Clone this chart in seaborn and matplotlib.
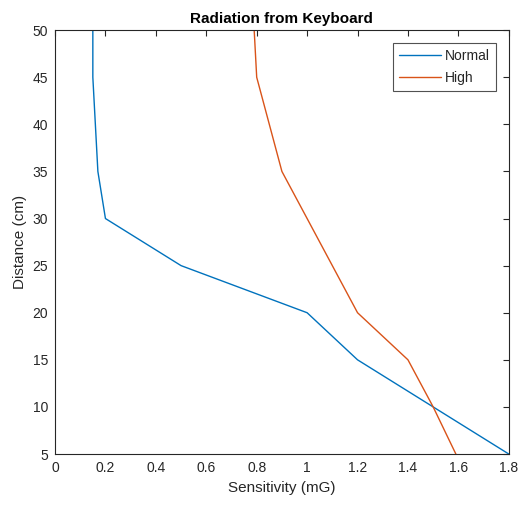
import matplotlib
matplotlib.use("Agg")
import matplotlib.pyplot as plt
import seaborn as sns
import pandas as pd

# values
distance = [50, 45, 40, 35, 30, 25, 20, 15, 10, 5]
normal = [0.15, 0.15, 0.16, 0.17, 0.2, 0.5, 1.0, 1.2, 1.5, 1.8]
high = [0.79, 0.8, 0.85, 0.9, 1.0, 1.1, 1.2, 1.4, 1.5, 1.59]

sns.set_style("white")
plt.rcParams['font.family'] = ['Liberation Sans', 'DejaVu Sans']

df = pd.concat([
    pd.DataFrame({'sens': normal, 'dist': distance, 'level': 'Normal'}),
    pd.DataFrame({'sens': high, 'dist': distance, 'level': 'High'}),
])

fig = plt.figure(figsize=(5.24, 5.11), dpi=100)
ax = fig.add_axes([0.105, 0.1115, 0.866, 0.8295])

sns.lineplot(data=df, x='sens', y='dist', hue='level', sort=False, estimator=None,
             palette=['#0072BD', '#D95319'], linewidth=1.0, ax=ax)

ax.set_xlim(0, 1.8)
ax.set_ylim(5, 50)
ax.set_xticks([0, 0.2, 0.4, 0.6, 0.8, 1, 1.2, 1.4, 1.6, 1.8])
ax.set_xticklabels(['0', '0.2', '0.4', '0.6', '0.8', '1', '1.2', '1.4', '1.6', '1.8'])
ax.set_yticks(range(5, 51, 5))
ax.tick_params(direction='in', top=True, right=True, length=4, width=0.8,
               labelsize=10, colors='#262626', pad=5)
for s in ax.spines.values():
    s.set_color('#262626')
    s.set_linewidth(0.8)

ax.set_xlabel('Sensitivity (mG)', fontsize=11, color='#262626')
ax.set_ylabel('Distance (cm)', fontsize=11, color='#262626')
ax.set_title('Radiation from Keyboard', fontsize=11, fontweight='bold', pad=5, color='black')

leg = ax.legend(loc='upper right', fontsize=10, frameon=True, fancybox=False,
                edgecolor='#262626', borderaxespad=0.9, handlelength=3.0,
                handletextpad=0.3, borderpad=0.45, labelspacing=0.55, title=None)
leg.get_frame().set_linewidth(0.8)

fig.savefig('out.png', dpi=100, facecolor='white')
